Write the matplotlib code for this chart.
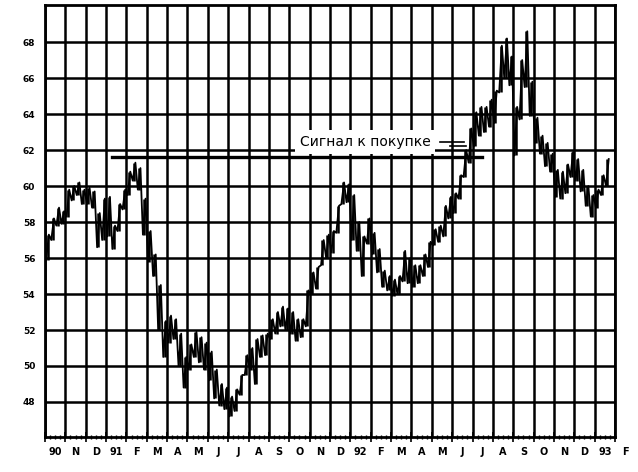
import numpy as np
import matplotlib
matplotlib.use("Agg")
import matplotlib.pyplot as plt

# month labels along the bottom (Oct 1990 .. Feb 1993)
month_labels = ["90", "N", "D", "91", "F", "M", "A", "M", "J", "J", "A", "S", "O", "N",
                "D", "92", "F", "M", "A", "M", "J", "J", "A", "S", "O", "N", "D", "93", "F"]
y_ticks = [48, 50, 52, 54, 56, 58, 60, 62, 64, 66, 68]

# weekly low / high (4 weeks per month, Oct 1990 .. Jan 1993)
week_low = [55.9, 57.0, 57.8, 57.9,  58.3, 59.2, 59.5, 59.0,  59.0, 58.8, 56.6, 57.0,
            57.2, 56.5, 57.5, 58.7,  59.5, 60.3, 59.8, 57.3,  55.8, 55.0, 52.0, 50.5,
            51.3, 51.5, 50.0, 48.8,  49.8, 50.5, 50.2, 49.8,  49.2, 48.2, 47.8, 47.6,
            47.2, 47.5, 48.4, 49.5,  49.8, 49.0, 50.5, 50.6,  51.5, 51.8, 52.2, 52.0,
            51.8, 51.4, 51.6, 52.2,  54.0, 54.3, 55.6, 56.0,  56.3, 57.4, 59.0, 59.1,
            57.0, 56.4, 55.0, 56.8,  56.2, 55.2, 54.4, 54.2,  53.9, 54.0, 54.7, 54.6,
            54.4, 54.6, 55.0, 55.5,  56.7, 56.9, 57.2, 58.2,  58.5, 59.3, 60.5, 61.3,
            62.2, 62.8, 63.0, 63.3,  63.5, 65.2, 66.0, 65.6,  61.7, 63.7, 65.5, 63.9,
            62.4, 61.8, 61.1, 60.8,  59.4, 59.3, 59.6, 60.5,  60.3, 59.7, 58.9, 58.3,
            58.8, 59.5, 60.0, np.nan]
week_high = [57.3, 58.2, 58.8, 58.6,  59.8, 60.0, 60.2, 59.8,  59.9, 59.7, 58.5, 59.3,
             59.4, 57.8, 59.0, 59.8,  60.8, 61.3, 61.0, 59.3,  57.5, 56.2, 54.5, 52.5,
             52.8, 52.6, 51.8, 50.5,  51.2, 51.9, 51.6, 51.3,  50.8, 49.8, 49.0, 48.8,
             48.3, 48.7, 49.5, 50.6,  51.0, 51.5, 51.7, 51.8,  52.6, 53.0, 53.3, 53.2,
             53.0, 52.6, 52.6, 54.2,  55.2, 55.5, 57.0, 57.3,  57.5, 58.9, 60.2, 60.1,
             59.5, 58.0, 57.2, 58.2,  57.4, 56.5, 55.3, 55.0,  54.8, 55.0, 56.4, 56.0,
             55.6, 55.6, 56.2, 56.9,  57.6, 57.8, 58.9, 59.4,  59.6, 60.6, 62.0, 63.2,
             64.1, 64.4, 64.4, 64.8,  65.3, 67.8, 68.2, 67.2,  64.4, 67.0, 68.6, 65.8,
             63.8, 62.8, 62.4, 61.8,  60.9, 60.8, 61.2, 61.9,  61.5, 60.9, 60.0, 59.5,
             59.8, 60.6, 61.5, np.nan]

# buy signal level and the span it is drawn over (in months from Oct 1990)
signal_level = 61.6
signal_span = [3.3, 21.45]
signal_text = "Сигнал к покупке"

fig = plt.figure(figsize=(6.38, 4.72), dpi=100)
ax = fig.add_axes([0.0705, 0.074, 0.8935, 0.915])

# price path: weekly range bars plus a zig-zag through low/high
weeks = np.arange(len(week_low)) / 4.0
lo = np.array(week_low)
hi = np.array(week_high)
ax.vlines(weeks + 0.125, lo, hi, color="black", lw=1.8, zorder=3)
zx = np.column_stack([weeks + 0.06, weeks + 0.19]).ravel()
zy = np.column_stack([lo, hi]).ravel()
ax.plot(zx, zy, color="black", lw=1.3, zorder=3)

# signal line and label
ax.plot(signal_span, [signal_level, signal_level], color="black", lw=2.4, zorder=4)
ax.plot([19.4, 20.6], [62.45, 62.45], color="black", lw=1.2, zorder=4)
ax.plot([19.9, 20.7], [62.2, 62.2], color="black", lw=1.2, zorder=4)
ax.text(15.72, 62.45, signal_text, fontsize=10, ha="center", va="center", zorder=5,
        bbox=dict(facecolor="white", edgecolor="none", pad=3.5))

# axes ranges and grid
ax.set_xlim(0, 28)
ax.set_ylim(46.05, 70.05)
ax.set_xticks(np.arange(0, 29))
ax.set_xticks(np.arange(0, 28, 0.25), minor=True)
ax.set_xticklabels([])
ax.set_yticks(y_ticks)
ax.set_yticklabels([str(v) for v in y_ticks], fontsize=6.5, fontweight="bold")
ax.grid(True, which="major", color="black", lw=1.8)
ax.set_axisbelow(True)
for s in ax.spines.values():
    s.set_linewidth(2)
ax.tick_params(axis="y", length=0, pad=7)
ax.tick_params(axis="x", which="major", direction="inout", length=7, width=1.2)
ax.tick_params(axis="x", which="minor", direction="inout", length=3, width=1)

# month labels sit in the middle of each month
for i, lab in enumerate(month_labels):
    ax.text(i + 0.5, -0.035, lab, transform=ax.get_xaxis_transform(), ha="center",
            va="center", fontsize=7, fontweight="bold", clip_on=False)

fig.savefig("out.png", dpi=100)
